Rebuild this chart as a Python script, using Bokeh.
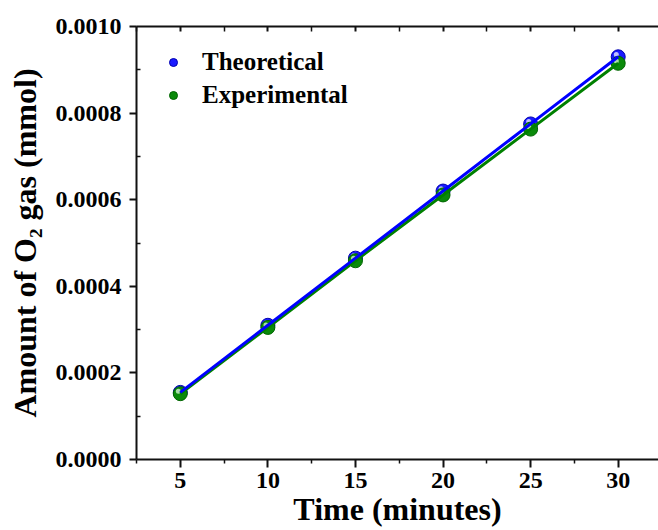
from bokeh.plotting import figure
from bokeh.models import (Range1d, LinearAxis, NumeralTickFormatter, FixedTicker,
                          Legend, LegendItem, ColumnDataSource)
from bokeh.transform import dodge
from bokeh.embed import file_html
from bokeh.resources import INLINE

time_min = [5, 10, 15, 20, 25, 30]
theoretical = [0.000155, 0.000310, 0.000465, 0.000620, 0.000775, 0.000930]
experimental = [0.000152, 0.000305, 0.000459, 0.000611, 0.000763, 0.000915]
x_ticks = [5, 10, 15, 20, 25, 30]
x_minor = [2.5, 7.5, 12.5, 17.5, 22.5, 27.5, 32.5]
y_ticks = [0.0, 0.0002, 0.0004, 0.0006, 0.0008, 0.0010]
y_minor = [0.0001, 0.0003, 0.0005, 0.0007, 0.0009]

FONT = "Liberation Serif"

p = figure(width=658, height=530, output_backend="svg", toolbar_location=None,
           x_range=Range1d(2.5, 32.3), y_range=Range1d(0.0, 0.0010),
           x_axis_location=None, y_axis_location=None,
           min_border_left=136, min_border_right=0, min_border_top=26,
           min_border_bottom=71)
p.outline_line_color = None
p.grid.visible = False
p.background_fill_color = "white"

def style_axis(ax):
    ax.major_label_text_font = FONT
    ax.major_label_text_font_style = "bold"
    ax.major_label_text_font_size = "24px"
    ax.major_label_text_color = "black"
    ax.axis_line_width = 2
    ax.major_tick_line_width = 2
    ax.minor_tick_line_width = 1.5
    ax.axis_line_color = "#111111"
    ax.major_tick_line_color = "#111111"
    ax.minor_tick_line_color = "#111111"
    ax.axis_label_text_font = FONT
    ax.axis_label_text_font_style = "bold"
    ax.axis_label_text_color = "black"

xb = LinearAxis(ticker=FixedTicker(ticks=x_ticks, minor_ticks=x_minor),
                axis_label="Time (minutes)")
style_axis(xb)
xb.axis_label_text_font_size = "32px"
xb.major_tick_out = 8
xb.major_tick_in = 0
xb.minor_tick_out = 4
xb.minor_tick_in = 0
xb.major_label_standoff = 5
xb.axis_label_standoff = 0
p.add_layout(xb, "below")

yl = LinearAxis(ticker=FixedTicker(ticks=y_ticks, minor_ticks=y_minor),
                axis_label="Amount of O\u2082 gas (mmol)",
                formatter=NumeralTickFormatter(format="0.0000"))
style_axis(yl)
yl.axis_label_text_font_size = "32px"
yl.major_tick_out = 7
yl.major_tick_in = 0
yl.minor_tick_out = 0
yl.minor_tick_in = 4
yl.major_label_standoff = 8
yl.axis_label_standoff = 10
p.add_layout(yl, "left")

xt = LinearAxis(ticker=FixedTicker(ticks=x_ticks, minor_ticks=x_minor))
style_axis(xt)
xt.major_label_text_font_size = "0px"
xt.major_label_text_color = None
xt.major_tick_out = 0
xt.major_tick_in = 5
xt.minor_tick_out = 0
xt.minor_tick_in = 5
p.add_layout(xt, "above")

src = ColumnDataSource(dict(x=time_min, t=theoretical, e=experimental))

hx = dodge("x", -0.11)
he = dodge("e", 0.0000055)
ht = dodge("t", 0.0000055)

c_t = p.scatter("x", "t", source=src, size=14, fill_color="#1a1aff", line_color="#0000b0", line_width=1)
h_t = p.scatter(hx, ht, source=src, size=5, fill_color="#c0c0ff", line_color=None)
c_e = p.scatter("x", "e", source=src, size=14, fill_color="#0a8a0a", line_color="#006400", line_width=1)
h_e = p.scatter(hx, he, source=src, size=5, fill_color="#a8dca8", line_color=None)

l_e = p.line("x", "e", source=src, line_color="#008000", line_width=3)
l_t = p.line("x", "t", source=src, line_color="#0000ff", line_width=3)

legend = Legend(items=[LegendItem(label="Theoretical", renderers=[c_t]),
                       LegendItem(label="Experimental", renderers=[c_e])],
                location=(27, 350))
legend.border_line_color = None
legend.background_fill_alpha = 0
legend.label_text_font = FONT
legend.label_text_font_style = "bold"
legend.label_text_font_size = "25px"
legend.label_text_color = "black"
legend.glyph_width = 20
legend.glyph_height = 22
legend.label_standoff = 19
legend.spacing = 5
legend.margin = 0
legend.padding = 0
p.add_layout(legend)

open("out.html", "w").write(file_html(p, INLINE))
